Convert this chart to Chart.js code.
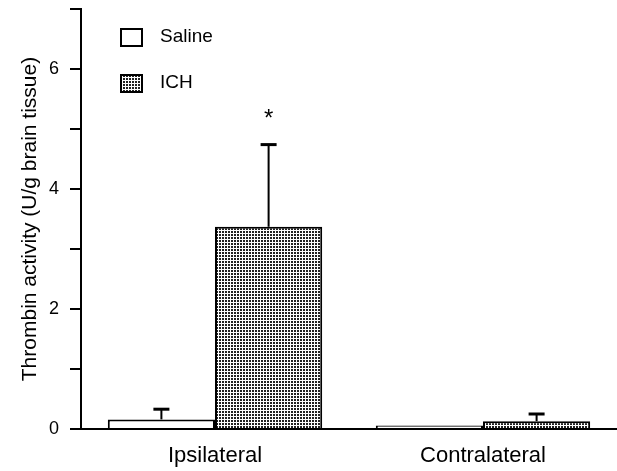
<!DOCTYPE html>
<html>
<head>
<meta charset="utf-8">
<script src="https://cdn.jsdelivr.net/npm/chart.js@4.4.1/dist/chart.umd.min.js"></script>
<style>
  html, body { margin: 0; padding: 0; background: #fff; }
  #wrap { width: 617px; height: 471px; position: relative; }
</style>
</head>
<body>
<div id="wrap"><canvas id="thrombinChart"></canvas></div>
<script>
  // valores
  const categorias = ['Ipsilateral', 'Contralateral'];
  const salineMedia = [0.16, 0.06];
  const salineErro = [0.17, 0];
  const ichMedia = [3.37, 0.13];
  const ichErro = [1.37, 0.12];
  const ichSignif = ['*', ''];
  const yTicksLabel = ['0', '', '2', '', '4', '', '6', ''];

  const fonte = '"Liberation Sans", Arial, Helvetica, sans-serif';

  // padrao pontilhado para a barra ICH
  function makeDots() {
    const c = document.createElement('canvas');
    c.width = 3; c.height = 3;
    const g = c.getContext('2d');
    g.fillStyle = '#fff';
    g.fillRect(0, 0, 3, 3);
    g.fillStyle = '#222';
    g.fillRect(0, 0, 2, 2);
    return g.createPattern(c, 'repeat');
  }
  const dots = makeDots();

  // barras de erro (so para cima) e asterisco
  const errorBars = {
    id: 'errorBars',
    afterDatasetsDraw(chart) {
      const ctx = chart.ctx;
      const y = chart.scales.y;
      const erros = [salineErro, ichErro];
      ctx.save();
      ctx.strokeStyle = '#000';
      chart.data.datasets.forEach(function(ds, i) {
        const meta = chart.getDatasetMeta(i);
        meta.data.forEach(function(bar, j) {
          const e = erros[i][j];
          if (!e) return;
          const top = y.getPixelForValue(ds.data[j] + e);
          ctx.lineWidth = 2;
          ctx.beginPath();
          ctx.moveTo(bar.x, bar.y);
          ctx.lineTo(bar.x, top);
          ctx.stroke();
          ctx.lineWidth = 3;
          ctx.beginPath();
          ctx.moveTo(bar.x - 8, top);
          ctx.lineTo(bar.x + 8, top);
          ctx.stroke();
          if (i === 1 && ichSignif[j]) {
            ctx.fillStyle = '#000';
            ctx.font = '24px ' + fonte;
            ctx.textAlign = 'center';
            ctx.textBaseline = 'middle';
            ctx.fillText(ichSignif[j], bar.x, top - 25);
          }
        });
      });
      ctx.restore();
    }
  };

  // legenda desenhada no canto
  const legendaCanto = {
    id: 'legendaCanto',
    afterDraw(chart) {
      const ctx = chart.ctx;
      ctx.save();
      ctx.font = '19px ' + fonte;
      ctx.textBaseline = 'middle';
      ctx.textAlign = 'left';
      chart.data.datasets.forEach(function(ds, i) {
        const yy = 37 + i * 46;
        ctx.fillStyle = ds.backgroundColor;
        ctx.fillRect(121, yy - 8, 21, 17);
        ctx.lineWidth = 2;
        ctx.strokeStyle = '#000';
        ctx.strokeRect(121, yy - 8, 21, 17);
        ctx.fillStyle = '#000';
        ctx.fillText(ds.label, 160, yy);
      });
      ctx.restore();
    }
  };

  const ctx = document.getElementById('thrombinChart');
  const chart = new Chart(ctx, {
    type: 'bar',
    data: {
      labels: categorias,
      datasets: [
        {
          label: 'Saline',
          data: salineMedia,
          backgroundColor: '#fff',
          borderColor: '#000',
          borderWidth: 2,
          categoryPercentage: 0.8,
          barPercentage: 1.0
        },
        {
          label: 'ICH',
          data: ichMedia,
          backgroundColor: dots,
          borderColor: '#000',
          borderWidth: 2,
          categoryPercentage: 0.8,
          barPercentage: 1.0
        }
      ]
    },
    options: {
      responsive: true,
      maintainAspectRatio: false,
      animation: false,
      layout: { padding: { top: 9, right: 0, left: 0, bottom: 0 } },
      plugins: {
        legend: { display: false },
        tooltip: { enabled: false }
      },
      scales: {
        x: {
          grid: { display: false, drawTicks: false },
          border: { color: '#000', width: 2 },
          ticks: { color: '#000', font: { family: fonte, size: 22 }, padding: 14 },
          afterFit: function(s) { s.height = 42; s.paddingLeft = 0; s.paddingRight = 0; }
        },
        y: {
          min: 0,
          max: 7,
          ticks: {
            stepSize: 1,
            color: '#000',
            font: { family: fonte, size: 18 },
            padding: 11,
            callback: function(v) { return yTicksLabel[v]; }
          },
          grid: { drawOnChartArea: false, tickLength: 11, color: '#000', lineWidth: 2 },
          border: { color: '#000', width: 2 },
          title: {
            display: true,
            text: 'Thrombin activity (U/g brain tissue)',
            color: '#000',
            font: { family: fonte, size: 21 },
            padding: { top: 18, bottom: 6 }
          },
          afterFit: function(s) { s.width = 81; s.paddingTop = 0; s.paddingBottom = 0; }
        }
      }
    },
    plugins: [errorBars, legendaCanto]
  });
</script>
</body>
</html>
